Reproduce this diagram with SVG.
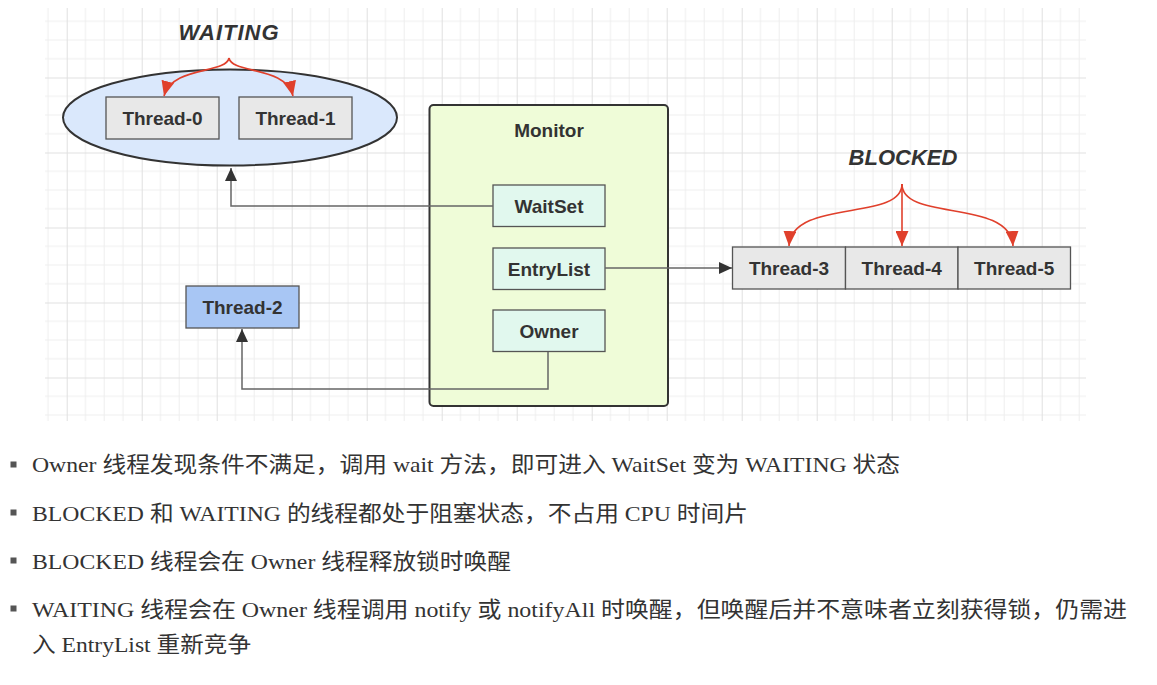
<svg xmlns="http://www.w3.org/2000/svg" width="1157" height="685" viewBox="0 0 1157 685">
<defs>
<pattern id="grid" patternUnits="userSpaceOnUse" x="66.7" y="2.5" width="75" height="75">
<path d="M18.75 0V75M37.5 0V75M56.25 0V75M0 18.75H75M0 37.5H75M0 56.25H75" stroke="#eeeeee" stroke-width="1" fill="none"/>
<path d="M0.5 0V75M0 0.5H75" stroke="#e0e0e0" stroke-width="1" fill="none"/>
</pattern>
<marker id="ah" markerUnits="userSpaceOnUse" markerWidth="14" markerHeight="12" refX="13" refY="6" orient="auto">
<path d="M0,0 L13,6 L0,12 z" fill="#333"/>
</marker>
<marker id="rh" markerUnits="userSpaceOnUse" markerWidth="16" markerHeight="13" refX="15" refY="6.5" orient="auto">
<path d="M0,0 L15,6.5 L0,13 z" fill="#e0402c"/>
</marker>
</defs>
<style>
.lbl{font-family:"Liberation Sans",Arial,sans-serif;font-weight:bold;font-size:19px;fill:#333;text-anchor:middle}
.state{font-family:"Liberation Sans",Arial,sans-serif;font-weight:bold;font-style:italic;font-size:22px;fill:#333;text-anchor:middle}
.gray{fill:#e8e8e8;stroke:#555;stroke-width:1.3}
.mint{fill:#e1f8ee;stroke:#555;stroke-width:1.3}
.conn{fill:none;stroke:#666;stroke-width:1.5}
.red{fill:none;stroke:#e0402c;stroke-width:1.6}
.bul{font-family:"Liberation Serif","Noto Sans CJK SC",serif;font-size:22px;fill:#333}
</style>
<rect width="1157" height="685" fill="#ffffff"/>
<rect x="45" y="8" width="1041" height="413" fill="url(#grid)"/>

<g id="waiting-label"><text class="state" x="229" y="40" letter-spacing="1">WAITING</text></g>
<g id="waiting-ellipse"><ellipse cx="230" cy="117.5" rx="167" ry="48" fill="#dae8fc" stroke="#333" stroke-width="2"/></g>
<g id="thread-0"><rect class="gray" x="106" y="97" width="113" height="42"/><text class="lbl" x="162.5" y="125">Thread-0</text></g>
<g id="thread-1"><rect class="gray" x="239" y="97" width="113" height="42"/><text class="lbl" x="295.5" y="125">Thread-1</text></g>

<g id="monitor"><rect x="429.5" y="105" width="238.5" height="301" rx="4" fill="#effcd8" stroke="#333" stroke-width="2"/><text class="lbl" x="549" y="137">Monitor</text></g>
<g id="waitset"><rect class="mint" x="493" y="185" width="112" height="41.5"/><text class="lbl" x="549" y="212.5">WaitSet</text></g>
<g id="entrylist"><rect class="mint" x="493" y="248" width="112" height="41.5"/><text class="lbl" x="549" y="275.5">EntryList</text></g>
<g id="owner"><rect class="mint" x="493" y="310" width="112" height="41.5"/><text class="lbl" x="549" y="337.5">Owner</text></g>

<g id="thread-2"><rect x="186" y="286" width="113" height="42" fill="#a8c6f4" stroke="#555" stroke-width="1.3"/><text class="lbl" x="242.5" y="314">Thread-2</text></g>

<g id="blocked-label"><text class="state" x="903" y="165">BLOCKED</text></g>
<g id="thread-3"><rect class="gray" x="732.5" y="247" width="113" height="42"/><text class="lbl" x="789" y="275">Thread-3</text></g>
<g id="thread-4"><rect class="gray" x="845.5" y="247" width="112.5" height="42"/><text class="lbl" x="901.7" y="275">Thread-4</text></g>
<g id="thread-5"><rect class="gray" x="958" y="247" width="112.5" height="42"/><text class="lbl" x="1014.2" y="275">Thread-5</text></g>

<g id="connectors">
<path class="conn" d="M493 206 H231 V168" marker-end="url(#ah)"/>
<path class="conn" d="M605 268 H732" marker-end="url(#ah)"/>
<path class="conn" d="M548 352 V389 H242 V329" marker-end="url(#ah)"/>
<path class="red" d="M229 58 C226 74 172 66 164 96" marker-end="url(#rh)"/>
<path class="red" d="M229 58 C232 74 286 66 293 96" marker-end="url(#rh)"/>
<path class="red" d="M902 184 C902 222 792 198 789 246" marker-end="url(#rh)"/>
<path class="red" d="M902 184 V246" marker-end="url(#rh)"/>
<path class="red" d="M902 184 C902 222 1010 198 1013 246" marker-end="url(#rh)"/>
</g>

<g id="notes">
<rect x="10.5" y="461.5" width="6" height="6" fill="#555"/>
<rect x="10.5" y="509.5" width="6" height="6" fill="#555"/>
<rect x="10.5" y="557.5" width="6" height="6" fill="#555"/>
<rect x="10.5" y="605.5" width="6" height="6" fill="#555"/>
<text class="bul" x="32" y="472" textLength="868" lengthAdjust="spacingAndGlyphs">Owner 线程发现条件不满足，调用 wait 方法，即可进入 WaitSet 变为 WAITING 状态</text>
<text class="bul" x="32" y="521" textLength="716" lengthAdjust="spacingAndGlyphs">BLOCKED 和 WAITING 的线程都处于阻塞状态，不占用 CPU 时间片</text>
<text class="bul" x="32" y="569" textLength="479" lengthAdjust="spacingAndGlyphs">BLOCKED 线程会在 Owner 线程释放锁时唤醒</text>
<text class="bul" x="32" y="617" textLength="1095" lengthAdjust="spacingAndGlyphs">WAITING 线程会在 Owner 线程调用 notify 或 notifyAll 时唤醒，但唤醒后并不意味者立刻获得锁，仍需进</text>
<text class="bul" x="32" y="652" textLength="219" lengthAdjust="spacingAndGlyphs">入 EntryList 重新竞争</text>
</g>
</svg>
